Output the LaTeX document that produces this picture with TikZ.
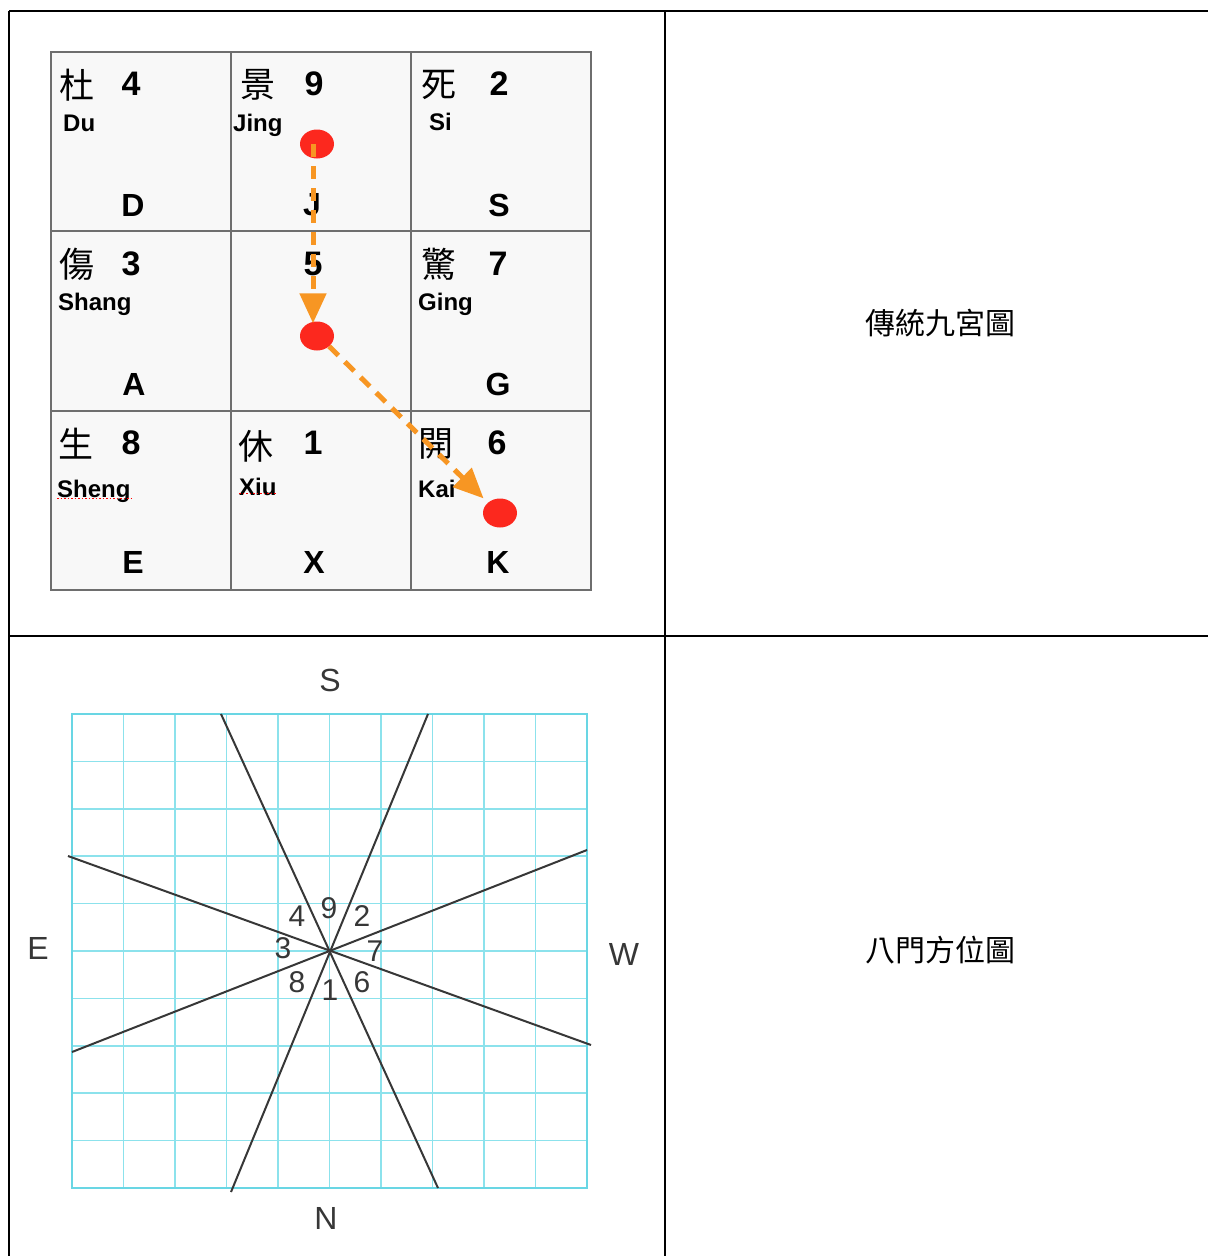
\documentclass[tikz,border=0pt]{standalone}
\usepackage{fontspec}
\setmainfont{Liberation Sans}
\newfontfamily\cjk{Noto Sans CJK TC}
\usetikzlibrary{shapes.geometric,arrows.meta}
\definecolor{gridcyan}{RGB}{140,226,236}
\definecolor{gridedge}{RGB}{105,214,228}
\definecolor{arrorange}{RGB}{247,150,35}
\definecolor{dotred}{RGB}{252,40,30}
\definecolor{cellgray}{RGB}{248,248,248}
\definecolor{cellline}{RGB}{110,110,110}
\definecolor{inkgray}{RGB}{55,55,55}
\tikzset{
  tableline/.style={line width=2.5pt, black},
  han/.style={inner sep=0pt, font=\cjk\fontsize{35}{35}\selectfont},
  num/.style={inner sep=0pt, font=\bfseries\fontsize{34}{34}\selectfont},
  letr/.style={inner sep=0pt, font=\bfseries\fontsize{32}{32}\selectfont},
  pin/.style={inner sep=0pt, anchor=base west, font=\bfseries\fontsize{24}{24}\selectfont},
  reddot/.style={ellipse, fill=dotred, minimum width=34pt, minimum height=29pt, inner sep=0pt},
  arr/.style={arrorange, line width=5pt, dash pattern=on 13pt off 9pt,
              -{Triangle[length=30pt,width=26pt]}},
  spell/.style={red, line width=1.5pt, dotted},
  star/.style={inkgray, line width=2pt},
  sector/.style={inner sep=0pt, text=inkgray, font=\fontsize{30}{30}\selectfont},
  compass/.style={inner sep=0pt, text=inkgray, font=\fontsize{32}{32}\selectfont},
  caption/.style={inner sep=0pt, font=\cjk\fontsize{30}{30}\selectfont}
}
\begin{document}
\begin{tikzpicture}[x=1pt,y=-1pt]
\useasboundingbox (0,0) rectangle (1208,1256);
\fill[white] (0,0) rectangle (1208,1256);

% ---------- outer table ----------
\draw[tableline] (9,11) -- (1208,11);
\draw[tableline] (9,636) -- (1208,636);
\draw[tableline] (9,11) -- (9,1256);
\draw[tableline] (665,11) -- (665,1256);

% ---------- top: nine palace grid ----------
\fill[cellgray] (51,52) rectangle (591,590);
\draw[cellline, line width=1.5pt] (51,52) rectangle (591,590);
\draw[cellline, line width=1.3pt] (231,52) -- (231,590) (411,52) -- (411,590)
                                 (51,231) -- (591,231) (51,411) -- (591,411);

% row 1
\node[han] (hDu) at (77,85) {杜};   \node[num] (n4) at (131,84) {4};
\node[pin] (pDu) at (63,131) {Du};  \node[letr] (lD) at (133,205) {D};
\node[han] (hJing) at (258,85) {景}; \node[num] (n9) at (314,84) {9};
\node[pin] (pJing) at (233,131) {Jing}; \node[letr] (lJ) at (312,205) {J};
\node[han] (hSi) at (439,85) {死};  \node[num] (n2) at (499,84) {2};
\node[pin] (pSi) at (429,130) {Si}; \node[letr] (lS) at (499,205) {S};
% row 2
\node[han] (hShang) at (77,264) {傷}; \node[num] (n3) at (131,264) {3};
\node[pin] (pShang) at (58,310) {Shang}; \node[letr] (lA) at (134,384) {A};
\node[num] (n5) at (313,264) {5};
\node[han] (hGing) at (439,264) {驚}; \node[num] (n7) at (498,264) {7};
\node[pin] (pGing) at (418,310) {Ging}; \node[letr] (lG) at (498,384) {G};
% row 3
\node[han] (hSheng) at (76,444) {生}; \node[num] (n8) at (131,443) {8};
\node[pin] (pSheng) at (57,497) {Sheng}; \node[letr] (lE) at (133,562) {E};
\node[han] (hXiu) at (256,446) {休}; \node[num] (n1) at (313,443) {1};
\node[pin] (pXiu) at (239,495) {Xiu}; \node[letr] (lX) at (314,562) {X};
\node[han] (hKai) at (436,444) {開}; \node[num] (n6) at (497,443) {6};
\node[pin] (pKai) at (418,497) {Kai}; \node[letr] (lK) at (498,562) {K};

% spell-check underlines
\draw[spell] ([yshift=4pt]pSheng.south west) -- ([yshift=4pt]pSheng.south east);
\draw[spell] ([yshift=2pt]pXiu.south west) -- ([yshift=2pt]pXiu.south east);

% red dots and orange path
\node[reddot] (d1) at (317,144) {};
\node[reddot] (d2) at (317,336) {};
\node[reddot] (d3) at (500,513) {};
\draw[arr] ([xshift=-4pt]d1.center) -- ([xshift=-4pt,yshift=-2pt]d2.north);
\draw[arr, shorten >=6pt] (d2.south east) -- (d3.north west);

% ---------- bottom: eight-door bearing chart ----------
\foreach \i in {1,...,9} {
  \draw[gridcyan, line width=1.6pt] ({72+51.5*\i},714) -- ({72+51.5*\i},1188);
  \draw[gridcyan, line width=1.6pt] (72,{714+47.4*\i}) -- (587,{714+47.4*\i});
}
\draw[gridedge, line width=2.4pt] (72,714) rectangle (587,1188);

\draw[star] (221,714) -- (438,1188);
\draw[star] (428,714) -- (231,1192);
\draw[star] (68,856) -- (591,1045);
\draw[star] (72,1052) -- (587,850);

\node[sector] (s4) at (297,916) {4};
\node[sector] (s9) at (329,908) {9};
\node[sector] (s2) at (362,916) {2};
\node[sector] (s3) at (283,948) {3};
\node[sector] (s7) at (375,951) {7};
\node[sector] (s8) at (297,982) {8};
\node[sector] (s1) at (330,990) {1};
\node[sector] (s6) at (362,982) {6};

\node[compass] (cS) at (330,680) {S};
\node[compass] (cN) at (326,1218) {N};
\node[compass] (cE) at (38,948) {E};
\node[compass] (cW) at (624,954) {W};

% ---------- right column captions ----------
\node[caption] (t1) at (940,323) {傳統九宮圖};
\node[caption] (t2) at (940,950) {八門方位圖};
\end{tikzpicture}
\end{document}
